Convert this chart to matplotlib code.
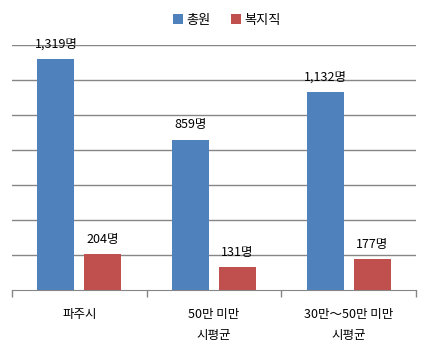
import numpy as np
import matplotlib.pyplot as plt

plt.rcParams['font.family'] = ['Noto Sans CJK KR', 'DejaVu Sans']

categories = ['파주시', '50만 미만\n시평균', '30만～50만 미만\n시평균']
series_names = ['총원', '복지직']
total = [1319, 859, 1132]
welfare = [204, 131, 177]
colors = ['#4F81BD', '#C0504D']

fig = plt.figure(figsize=(4.28, 3.52), dpi=100)
ax = fig.add_axes([0.028, 0.176, 0.944, 0.696])

x = np.arange(len(categories))
w = 0.274
off = 0.174
b1 = ax.bar(x - off, total, w, color=colors[0], label=series_names[0], zorder=3)
b2 = ax.bar(x + off, welfare, w, color=colors[1], label=series_names[1], zorder=3)

for bars in (b1, b2):
    for r in bars:
        v = r.get_height()
        ax.annotate(f'{v:,}명', (r.get_x() + r.get_width() / 2, v),
                    xytext=(0, 6), textcoords='offset points',
                    ha='center', va='bottom', fontsize=9, color='black')

ax.set_xlim(-0.5, 2.5)
ax.set_ylim(0, 1400)
ax.set_yticks(range(200, 1401, 200))
ax.yaxis.grid(True, color='#868686', linewidth=1, zorder=0)
ax.tick_params(axis='y', left=False, labelleft=False)

ax.set_xticks(x)
ax.set_xticklabels(categories, fontsize=9, linespacing=1.75)
ax.set_xticks([-0.5, 0.5, 1.5, 2.5], minor=True)
ax.tick_params(axis='x', which='major', length=0, pad=13)
ax.tick_params(axis='x', which='minor', length=5, color='#868686', width=1)

for s in ['top', 'right', 'left']:
    ax.spines[s].set_visible(False)
ax.spines['bottom'].set_color('#868686')

fig.legend(loc='upper center', bbox_to_anchor=(0.53, 0.995), ncol=2, frameon=False,
           fontsize=9.5, handlelength=0.75, handleheight=0.75, handletextpad=0.3,
           columnspacing=1.5)

fig.savefig('out.png', dpi=100)
